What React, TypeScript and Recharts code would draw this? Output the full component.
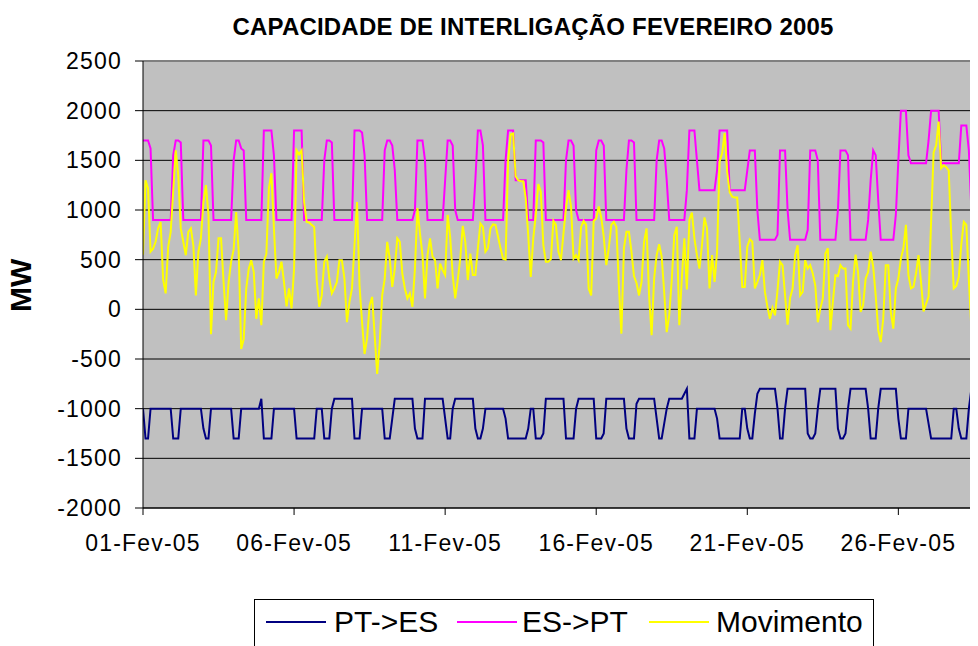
import React from 'react';
import { LineChart, Line, XAxis, YAxis, CartesianGrid, ReferenceLine } from 'recharts';

// valores de 2 em 2 horas (00h, 02h, ... 22h), uma linha por dia de Fevereiro 2005
const ptEs: number[] = [
  -1000, -1300, -1300, -1000, -1000, -1000, -1000, -1000, -1000, -1000, -1000, -1000, // 01
  -1300, -1300, -1300, -1000, -1000, -1000, -1000, -1000, -1000, -1000, -1000, -1000, // 02
  -1200, -1300, -1300, -1000, -1000, -1000, -1000, -1000, -1000, -1000, -1000, -1000, // 03
  -1300, -1300, -1300, -1000, -1000, -1000, -1000, -1000, -1000, -1000, -1000, -900, // 04
  -1300, -1300, -1300, -1300, -1000, -1000, -1000, -1000, -1000, -1000, -1000, -1000, // 05
  -1000, -1300, -1300, -1300, -1300, -1300, -1300, -1300, -1300, -1000, -1000, -1000, // 06
  -1300, -1300, -1300, -1000, -900, -900, -900, -900, -900, -900, -900, -900, // 07
  -1300, -1300, -1300, -1000, -1000, -1000, -1000, -1000, -1000, -1000, -1000, -1000, // 08
  -1300, -1300, -1300, -1100, -900, -900, -900, -900, -900, -900, -900, -900, // 09
  -1200, -1300, -1300, -1300, -900, -900, -900, -900, -900, -900, -900, -900, // 10
  -1100, -1300, -1300, -1000, -900, -900, -900, -900, -900, -900, -900, -900, // 11
  -1200, -1300, -1300, -1200, -1000, -1000, -1000, -1000, -1000, -1000, -1000, -1000, // 12
  -1100, -1300, -1300, -1300, -1300, -1300, -1300, -1300, -1300, -1200, -1000, -1000, // 13
  -1300, -1300, -1300, -1250, -900, -900, -900, -900, -900, -900, -900, -900, // 14
  -1300, -1300, -1300, -1300, -1000, -900, -900, -900, -900, -900, -900, -900, // 15
  -1300, -1300, -1300, -1250, -900, -900, -900, -900, -900, -900, -900, -900, // 16
  -1200, -1300, -1300, -1300, -950, -900, -900, -900, -900, -900, -900, -900, // 17
  -1100, -1300, -1300, -1150, -1000, -900, -900, -900, -900, -900, -900, -850, // 18
  -800, -1300, -1300, -1300, -1000, -1000, -1000, -1000, -1000, -1000, -1000, -1000, // 19
  -1100, -1300, -1300, -1300, -1300, -1300, -1300, -1300, -1300, -1300, -1000, -1000, // 20
  -1200, -1300, -1300, -1050, -850, -800, -800, -800, -800, -800, -800, -800, // 21
  -1000, -1300, -1300, -1000, -800, -800, -800, -800, -800, -800, -800, -800, // 22
  -1250, -1300, -1300, -1250, -1000, -800, -800, -800, -800, -800, -800, -800, // 23
  -1200, -1300, -1300, -1250, -1000, -800, -800, -800, -800, -800, -800, -800, // 24
  -1000, -1300, -1300, -1300, -1000, -800, -800, -800, -800, -800, -800, -800, // 25
  -1100, -1300, -1300, -1300, -1000, -1000, -1000, -1000, -1000, -1000, -1000, -1000, // 26
  -1150, -1300, -1300, -1300, -1300, -1300, -1300, -1300, -1300, -1300, -1000, -1000, // 27
  -1200, -1300, -1300, -1300, -1000, -800, -800, -800, -800, -800, -800, -800, // 28
];

const esPt: number[] = [
  1700, 1700, 1700, 1620, 900, 900, 900, 900, 900, 900, 900, 900, // 01
  1550, 1700, 1700, 1680, 900, 900, 900, 900, 900, 900, 900, 900, // 02
  1700, 1700, 1700, 1650, 900, 900, 900, 900, 900, 900, 900, 900, // 03
  1500, 1700, 1700, 1620, 1600, 900, 900, 900, 900, 900, 900, 900, // 04
  1800, 1800, 1800, 1800, 1550, 900, 900, 900, 900, 900, 900, 900, // 05
  1800, 1800, 1800, 1800, 900, 900, 900, 900, 900, 900, 900, 900, // 06
  1500, 1700, 1700, 1680, 900, 900, 900, 900, 900, 900, 900, 900, // 07
  1800, 1800, 1800, 1780, 1550, 900, 900, 900, 900, 900, 900, 900, // 08
  1600, 1700, 1700, 1650, 1400, 900, 900, 900, 900, 900, 900, 900, // 09
  1000, 1700, 1700, 1700, 1500, 900, 900, 900, 900, 900, 900, 900, // 10
  1300, 1700, 1700, 1650, 1000, 900, 900, 900, 900, 900, 900, 900, // 11
  1300, 1800, 1800, 1650, 900, 900, 900, 900, 900, 900, 900, 900, // 12
  1500, 1800, 1800, 1800, 1300, 1300, 1300, 1300, 1300, 900, 900, 900, // 13
  1700, 1700, 1700, 1680, 900, 900, 900, 900, 900, 900, 900, 900, // 14
  1500, 1700, 1700, 1650, 1000, 900, 900, 900, 900, 900, 900, 900, // 15
  1600, 1700, 1700, 1650, 900, 900, 900, 900, 900, 900, 900, 900, // 16
  1400, 1700, 1700, 1680, 900, 900, 900, 900, 900, 900, 900, 900, // 17
  1500, 1700, 1700, 1620, 1300, 900, 900, 900, 900, 900, 900, 900, // 18
  1200, 1800, 1800, 1800, 1500, 1200, 1200, 1200, 1200, 1200, 1200, 1200, // 19
  1400, 1800, 1800, 1800, 1800, 1200, 1200, 1200, 1200, 1200, 1200, 1200, // 20
  1400, 1600, 1600, 1600, 1000, 700, 700, 700, 700, 700, 700, 700, // 21
  750, 1600, 1600, 1600, 1000, 700, 700, 700, 700, 700, 700, 700, // 22
  800, 1600, 1600, 1600, 1500, 700, 700, 700, 700, 700, 700, 700, // 23
  1000, 1600, 1600, 1600, 1550, 700, 700, 700, 700, 700, 700, 700, // 24
  900, 1300, 1600, 1550, 1100, 700, 700, 700, 700, 700, 700, 950, // 25
  1500, 2000, 2000, 2000, 1550, 1470, 1470, 1470, 1470, 1470, 1470, 1470, // 26
  1700, 2000, 2000, 2000, 2000, 1470, 1470, 1470, 1470, 1470, 1470, 1470, // 27
  1470, 1850, 1850, 1850, 1600, 1000, 1000, 1000, 1000, 1000, 1000, 1000, // 28
];

const movimento: (number | null)[] = [
  550, 1300, 1220, 580, 610, 680, 815, 880, 300, 160, 630, 780, // 01
  1190, 1600, 1350, 815, 680, 545, 780, 815, 645, 140, 580, 715, // 02
  1080, 1250, 950, -250, 275, 375, 715, 715, 275, -110, 275, 480, // 03
  600, 980, 580, -400, -300, 210, 410, 495, 375, -95, 110, -160, // 04
  480, 560, 1220, 1370, 815, 310, 375, 480, 275, 30, 210, 10, // 05
  410, 1600, 1560, 1600, 1080, 880, 875, 850, 830, 290, 25, 140, // 06
  480, 530, 310, 160, 210, 275, 495, 495, 310, -130, 75, 210, // 07
  645, 1080, 240, -130, -450, -290, 40, 125, -260, -650, -350, 140, // 08
  310, 680, 510, 225, 410, 715, 680, 360, 210, 110, 160, 25, // 09
  410, 1020, 765, 545, 110, 545, 715, 530, 495, 210, 460, 395, // 10
  345, 950, 730, 345, 110, 295, 510, 840, 680, 295, 560, 345, // 11
  345, 615, 865, 830, 580, 615, 815, 855, 850, 730, 615, 510, // 12
  500, 1490, 1760, 1770, 1340, 1300, 1290, 1290, 1120, 745, 325, 715, // 13
  950, 1260, 1185, 645, 480, 480, 505, 890, 850, 580, 495, 765, // 14
  1020, 1200, 1035, 510, 545, 495, 830, 890, 850, 210, 140, 890, // 15
  915, 1035, 925, 730, 445, 615, 850, 880, 830, 240, -245, 615, // 16
  780, 780, 580, 335, 265, 140, 275, 680, 815, 140, -260, 310, // 17
  545, 655, 530, 175, -230, -60, 295, 745, 830, -160, 310, 715, // 18
  200, 900, 975, 715, 545, 410, 645, 925, 815, 210, 545, 275, // 19
  580, 1490, 1570, 1775, 1385, 1180, 1135, 1125, 1125, 680, 225, 225, // 20
  630, 705, 680, 210, 275, 345, 495, 175, 25, -95, 15, -60, // 21
  190, 480, 445, 140, -155, 115, 210, 545, 645, 140, 175, 495, // 22
  410, 445, 360, 240, -130, 5, 110, 560, 615, -210, 75, 345, // 23
  335, 445, 410, 410, -160, -195, 275, 550, 375, -25, 40, 310, // 24
  375, 580, 430, 140, -210, -330, -95, 445, 445, -25, -195, 210, // 25
  310, 510, 615, 850, 345, 210, 225, 360, 545, 275, -20, 55, // 26
  125, 880, 1580, 1650, 1890, 1420, 1450, 1430, 1400, 745, 210, 235, // 27
  325, 655, 880, 850, 295, -195, -365, 445, 715, null, null, null, // 28
];

const xTicks = [0, 5, 10, 15, 20, 25];
const xTickLabels = ['01-Fev-05', '06-Fev-05', '11-Fev-05', '16-Fev-05', '21-Fev-05', '26-Fev-05'];
const yTicks = [-2000, -1500, -1000, -500, 0, 500, 1000, 1500, 2000, 2500];

const POINTS_PER_DAY = 12;

const data = ptEs.map((v, i) => ({
  t: i / POINTS_PER_DAY,
  pt: v,
  es: esPt[i],
  mov: movimento[i],
}));

const FONT = '"Liberation Sans", Arial, sans-serif';

const tickStyle = { fill: '#000', fontSize: 23, fontFamily: FONT, letterSpacing: 1.2 };

const legendItems = [
  { label: 'PT->ES', color: '#000080', lineLeft: 11, textLeft: 79 },
  { label: 'ES->PT', color: '#ff00ff', lineLeft: 202, textLeft: 267 },
  { label: 'Movimento', color: '#ffff00', lineLeft: 394, textLeft: 461 },
];

const App: React.FC = () => {
  return (
    <div
      style={{
        position: 'relative',
        width: 970,
        height: 638,
        background: '#fff',
        fontFamily: FONT,
      }}
    >
      <div
        style={{
          position: 'absolute',
          left: 125,
          width: 800,
          top: 7,
          textAlign: 'center',
          fontSize: 24,
          lineHeight: '24px',
          fontWeight: 'bold',
          letterSpacing: 0.2,
          whiteSpace: 'nowrap',
        }}
      >
        CAPACIDADE DE INTERLIGAÇÃO FEVEREIRO 2005
      </div>

      <div
        style={{
          position: 'absolute',
          left: -4,
          top: 242,
          width: 34,
          height: 70,
          writingMode: 'vertical-rl',
          transform: 'rotate(180deg)',
          textAlign: 'center',
          fontSize: 30,
          lineHeight: '34px',
          fontWeight: 'bold',
        }}
      >
        MW
      </div>

      {/* o gráfico é mais largo do que a janela: corta-se à direita, como no original */}
      <div style={{ position: 'absolute', left: 0, top: 0, width: 970, height: 560, overflow: 'hidden' }}>
        <LineChart width={986} height={560} data={data} margin={{ top: 53, right: 5, bottom: 0, left: 0 }}>
          <CartesianGrid vertical={false} stroke="#000" fill="#c0c0c0" fillOpacity={1} />
          <XAxis
            dataKey="t"
            type="number"
            domain={[0, 28]}
            ticks={xTicks}
            tickFormatter={(v: number) => xTickLabels[xTicks.indexOf(v)] ?? ''}
            height={60}
            tickSize={7}
            tickMargin={20}
            stroke="#000"
            tick={tickStyle}
            allowDataOverflow
          />
          <YAxis
            type="number"
            domain={[-2000, 2500]}
            ticks={yTicks}
            width={135}
            tickSize={8}
            tickMargin={13}
            stroke="#000"
            tick={tickStyle}
            allowDataOverflow
          />
          <ReferenceLine y={2500} stroke="#808080" strokeWidth={2} />
          <Line type="linear" dataKey="pt" name="PT->ES" stroke="#000080" strokeWidth={2} dot={false} isAnimationActive={false} />
          <Line type="linear" dataKey="es" name="ES->PT" stroke="#ff00ff" strokeWidth={2} dot={false} isAnimationActive={false} />
          <Line type="linear" dataKey="mov" name="Movimento" stroke="#ffff00" strokeWidth={2} dot={false} isAnimationActive={false} />
        </LineChart>
      </div>

      <div
        style={{
          position: 'absolute',
          left: 246,
          top: 591,
          width: 620,
          height: 47,
          borderTop: '1px solid #000',
          borderLeft: '1px solid #000',
          borderRight: '1px solid #000',
          boxSizing: 'border-box',
          background: '#fff',
        }}
      >
        {legendItems.map((it) => (
          <React.Fragment key={it.label}>
            <div
              style={{
                position: 'absolute',
                left: it.lineLeft,
                top: 21,
                width: 60,
                height: 2,
                background: it.color,
              }}
            />
            <div
              style={{
                position: 'absolute',
                left: it.textLeft,
                top: 7,
                fontSize: 30,
                lineHeight: '30px',
                whiteSpace: 'nowrap',
              }}
            >
              {it.label}
            </div>
          </React.Fragment>
        ))}
      </div>
    </div>
  );
};

export default App;
